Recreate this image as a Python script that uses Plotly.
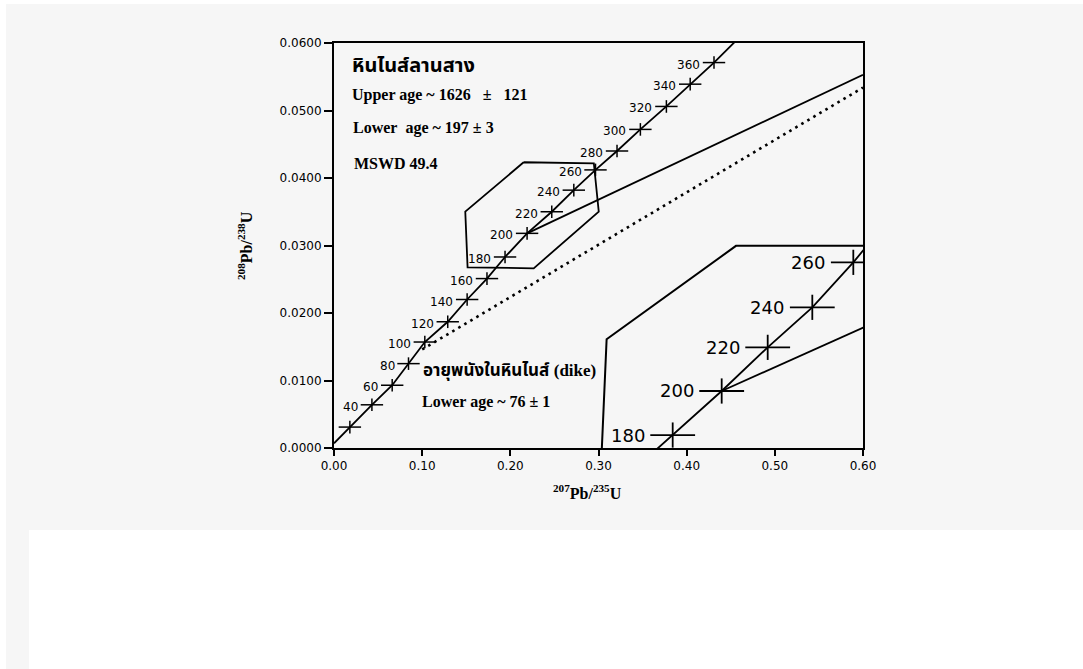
import plotly.graph_objects as go

W, H = 1083, 669

# ---------------- data ----------------
# main concordia: ages (Ma) and ratio positions
ages = [20, 40, 60, 80, 100, 120, 140, 160, 180, 200, 220, 240, 260, 280, 300, 320, 340, 360]
pb207_u235 = [0.018, 0.043, 0.066, 0.0845, 0.103, 0.129, 0.151, 0.1735, 0.194, 0.219,
              0.247, 0.272, 0.2966, 0.321, 0.3475, 0.377, 0.404, 0.431]
pb208_u238 = [0.0031, 0.0064, 0.0093, 0.0125, 0.0157, 0.0187, 0.0220, 0.0251, 0.0283, 0.0318,
              0.0350, 0.0382, 0.0412, 0.0440, 0.0472, 0.0506, 0.0539, 0.0571]
age_labels = ["", "40", "60", "80", "100", "120", "140", "160", "180", "200",
              "220", "240", "260", "280", "300", "320", "340", "360"]
# concordia curve ends (start near origin, exit through top of frame)
conc_start = (0.0, 0.0007)
conc_end = (0.458, 0.0606)

# discordia (Lan Sang gneiss): lower intercept ~200 Ma to right border
disc_x = [0.219, 0.600]
disc_y = [0.0318, 0.0553]
# dike discordia (dotted)
dike_x = [0.100, 0.600]
dike_y = [0.0146, 0.0534]
# hexagon marking the enlarged region
hex_x = [0.2151, 0.2947, 0.3003, 0.2265, 0.1515, 0.1489, 0.2151]
hex_y = [0.04233, 0.04218, 0.03501, 0.02662, 0.02677, 0.03501, 0.04233]

# inset (enlarged) concordia
in_ages = ["180", "200", "220", "240", "260"]
in_x = [0.19244, 0.22028, 0.24642, 0.27176, 0.29506]
in_y = [0.02844, 0.03173, 0.03499, 0.03798, 0.04134]
in_line_x = [0.18182] + in_x + [0.3030]
in_line_y = [0.02720] + in_y + [0.04260]
in_disc_x = [0.22028, 0.3030]
in_disc_y = [0.03173, 0.03660]
in_frame_x = [0.1521, 0.1521, 0.1549, 0.2284, 0.3040]
in_frame_y = [0.0260, 0.0272, 0.0356, 0.04257, 0.04257]

# ---------------- helpers ----------------
def px(xp):
    return xp / W

def py(yp):
    return 1 - yp / H

fig = go.Figure()

# concordia line
fig.add_trace(go.Scatter(
    x=[conc_start[0]] + pb207_u235 + [conc_end[0]],
    y=[conc_start[1]] + pb208_u238 + [conc_end[1]],
    mode="lines", line=dict(color="black", width=1.8),
    xaxis="x", yaxis="y", hoverinfo="skip"))
# cross markers (horizontal + vertical bars)
fig.add_trace(go.Scatter(x=pb207_u235, y=pb208_u238, mode="markers",
                         marker=dict(symbol="line-ew", size=16, line=dict(color="black", width=1.5)),
                         hoverinfo="skip"))
fig.add_trace(go.Scatter(x=pb207_u235, y=pb208_u238, mode="markers",
                         marker=dict(symbol="line-ns", size=9, line=dict(color="black", width=1.5)),
                         hoverinfo="skip"))
# discordias
fig.add_trace(go.Scatter(x=disc_x, y=disc_y, mode="lines",
                         line=dict(color="black", width=1.8), hoverinfo="skip"))
fig.add_trace(go.Scatter(x=dike_x, y=dike_y, mode="lines",
                         line=dict(color="black", width=2.6, dash="2.6px,4.4px"), hoverinfo="skip"))
# hexagon
fig.add_trace(go.Scatter(x=hex_x, y=hex_y, mode="lines",
                         line=dict(color="black", width=1.8), hoverinfo="skip"))

# inset traces
fig.add_trace(go.Scatter(x=in_frame_x, y=in_frame_y, mode="lines", xaxis="x2", yaxis="y2",
                         line=dict(color="black", width=2), hoverinfo="skip"))
fig.add_trace(go.Scatter(x=in_line_x, y=in_line_y, mode="lines", xaxis="x2", yaxis="y2",
                         line=dict(color="black", width=1.8), hoverinfo="skip"))
fig.add_trace(go.Scatter(x=in_disc_x, y=in_disc_y, mode="lines", xaxis="x2", yaxis="y2",
                         line=dict(color="black", width=1.8), hoverinfo="skip"))
fig.add_trace(go.Scatter(x=in_x, y=in_y, mode="markers", xaxis="x2", yaxis="y2",
                         marker=dict(symbol="line-ew", size=32, line=dict(color="black", width=1.8)),
                         hoverinfo="skip"))
fig.add_trace(go.Scatter(x=in_x, y=in_y, mode="markers", xaxis="x2", yaxis="y2",
                         marker=dict(symbol="line-ns", size=18, line=dict(color="black", width=1.8)),
                         hoverinfo="skip"))

annotations = []
tick_font = dict(family="DejaVu Sans, Arial, sans-serif", size=12, color="black")
for xv, yv, lab in zip(pb207_u235, pb208_u238, age_labels):
    if lab:
        annotations.append(dict(x=xv, y=yv, xref="x", yref="y", text=lab, showarrow=False,
                                xanchor="right", yanchor="middle", xshift=-12, yshift=-2,
                                font=tick_font))
for xv, yv, lab in zip(in_x, in_y, in_ages):
    annotations.append(dict(x=xv, y=yv, xref="x2", yref="y2", text=lab, showarrow=False,
                            xanchor="right", yanchor="middle", xshift=-26,
                            font=dict(family="DejaVu Sans, Arial, sans-serif", size=18, color="black")))

serif_b = dict(family="Liberation Serif, Times New Roman, serif", size=16, color="black")
thai_f = dict(family="Noto Sans Thai, Loma, Garuda, Tahoma, Noto Sans, DejaVu Sans, sans-serif",
              size=17, color="black")
thai_big = dict(thai_f, size=20)
NB = "\u00a0"
texts = [
    ("<b>หินไนส์ลานสาง</b>", 350, 66, thai_big),
    ("<b>Upper age ~ 1626" + NB * 3 + "±" + NB * 3 + "121</b>", 350, 95, serif_b),
    ("<b>Lower" + NB * 2 + "age ~ 197 ± 3</b>", 351, 128, serif_b),
    ("<b>MSWD 49.4</b>", 352, 163, serif_b),
    ("<b>อายุพนังในหินไนส์ <span style='font-family:Liberation Serif, serif'>(dike)</span></b>",
     421, 371, thai_f),
    ("<b>Lower age ~ 76 ± 1</b>", 420, 402, serif_b),
]
for t, xp_, yp_, f in texts:
    annotations.append(dict(x=px(xp_), y=py(yp_), xref="paper", yref="paper", text=t,
                            showarrow=False, xanchor="left", yanchor="middle", font=f))

# axis titles
annotations.append(dict(x=px(587), y=py(492), xref="paper", yref="paper",
                        text="<b><sup>207</sup>Pb/<sup>235</sup>U</b>", showarrow=False,
                        xanchor="center", yanchor="middle",
                        font=dict(family="Liberation Serif, serif", size=16, color="black")))
annotations.append(dict(x=px(245), y=py(246), xref="paper", yref="paper",
                        text="<b><sup>208</sup>Pb/<sup>238</sup>U</b>", showarrow=False,
                        textangle=-90, xanchor="center", yanchor="middle",
                        font=dict(family="Liberation Serif, serif", size=16, color="black")))

GREY = "#f6f6f6"
shapes = [
    dict(type="rect", xref="paper", yref="paper", x0=px(6), x1=1, y0=py(530), y1=py(4),
         fillcolor=GREY, line=dict(width=0), layer="below"),
    dict(type="rect", xref="paper", yref="paper", x0=px(6), x1=px(29), y0=0, y1=py(530),
         fillcolor=GREY, line=dict(width=0), layer="below"),
]

x_ticks = [0.0, 0.1, 0.2, 0.3, 0.4, 0.5, 0.6]
x_ticktext = ["0.00", "0.10", "0.20", "0.30", "0.40", "0.50", "0.60"]
y_ticks = [0.0, 0.01, 0.02, 0.03, 0.04, 0.05, 0.06]
y_ticktext = ["0.0000", "0.0100", "0.0200", "0.0300", "0.0400", "0.0500", "0.0600"]

fig.update_layout(
    template="none",
    width=W, height=H, autosize=False,
    margin=dict(l=0, r=0, t=0, b=0, pad=0, autoexpand=False),
    paper_bgcolor="white", plot_bgcolor="rgba(0,0,0,0)",
    showlegend=False,
    xaxis=dict(domain=[px(334), px(863)], range=[0, 0.6], tickvals=x_ticks, ticktext=x_ticktext,
               ticks="outside", ticklen=6, tickwidth=1.5, tickcolor="black", automargin=False,
               showline=True, linecolor="black", linewidth=2, mirror=True,
               showgrid=False, zeroline=False, tickfont=tick_font, anchor="y", fixedrange=True),
    yaxis=dict(domain=[py(448), py(43)], range=[0, 0.06], tickvals=y_ticks, ticktext=y_ticktext,
               ticks="outside", ticklen=8, tickwidth=1.5, tickcolor="black", automargin=False,
               showline=True, linecolor="black", linewidth=2, mirror=True,
               showgrid=False, zeroline=False, tickfont=tick_font, anchor="x", fixedrange=True),
    xaxis2=dict(domain=[px(595), px(864)], range=[(595 - 334) / 1760, (864 - 334) / 1760],
                visible=False, anchor="y2", fixedrange=True, automargin=False),
    yaxis2=dict(domain=[py(448), py(240)], range=[(815.8 - 448) / 13388, (815.8 - 240) / 13388],
                visible=False, anchor="x2", fixedrange=True, automargin=False),
    annotations=annotations,
    shapes=shapes,
)

fig.write_html("out.html",
               post_script="document.body.style.margin='0';document.body.style.overflow='hidden';")
